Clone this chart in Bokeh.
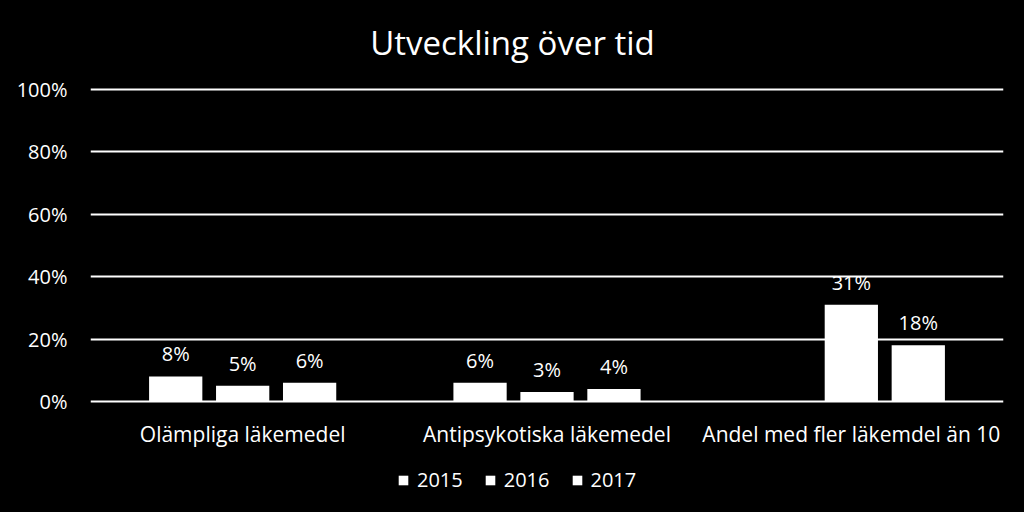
from bokeh.plotting import figure
from bokeh.layouts import column
from bokeh.models import ColumnDataSource, Legend, LegendItem, FixedTicker, CustomJSTickFormatter, Label
from bokeh.transform import dodge
from bokeh.core.properties import value
from bokeh.embed import file_html
from bokeh.resources import INLINE

categories = ["Olämpliga läkemedel", "Antipsykotiska läkemedel", "Andel med fler läkemdel än 10"]
years = ["2015", "2016", "2017"]
y2015 = [8, 6, None]
y2016 = [5, 3, 31]
y2017 = [6, 4, 18]
series = [y2015, y2016, y2017]
y_ticks = [0, 20, 40, 60, 80, 100]
title_text = "Utveckling över tid"

FONT = "Open Sans"

def strip(h, xr):
    f = figure(width=1024, height=h, output_backend="svg", toolbar_location=None,
               min_border=0, background_fill_color="black", border_fill_color="black",
               x_axis_type=None, y_axis_type=None, x_range=xr, y_range=(0, 1))
    f.outline_line_color = None
    f.xgrid.grid_line_color = None
    f.ygrid.grid_line_color = None
    f.title.visible = False
    return f

# title strip (its frame is aligned with the chart frame, 90..1003 px)
title_fig = strip(70, (90, 1003))
title_fig.add_layout(Label(x=512, y=0.4, text=title_text, text_color="white",
                           text_font=FONT, text_font_size="33px",
                           text_align="center", text_baseline="middle"))

p = figure(frame_width=913, frame_height=318, x_range=categories, y_range=(-1, 101),
           output_backend="svg", toolbar_location=None,
           min_border_left=90, min_border_right=21, min_border_top=16, min_border_bottom=51,
           background_fill_color="black", border_fill_color="black")
p.outline_line_color = None
p.title.visible = False
p.x_range.range_padding = 0

# legend strip below the chart
leg_fig = strip(57, (0, 1))

offsets = [-0.22, 0.0, 0.22]
items = []
for yr, vals, off in zip(years, series, offsets):
    cats = [c for c, v in zip(categories, vals) if v is not None]
    vv = [v for v in vals if v is not None]
    src = ColumnDataSource(dict(cat=cats, val=vv, lbl=[f"{v}%" for v in vv]))
    p.vbar(x=dodge("cat", off, range=p.x_range), top="val", width=0.175, source=src,
           fill_color="white", line_color=None)
    p.text(x=dodge("cat", off, range=p.x_range), y="val", text="lbl", source=src,
           text_color="white", text_font=value(FONT), text_font_size="20px",
           text_align="center", text_baseline="bottom", y_offset=-9)
    # zero-height stand-in bar, only used to give the legend entry its swatch
    dummy = leg_fig.vbar(x=[0.5], top=[0], bottom=[0], width=0.01,
                         fill_color="white", line_color=None)
    items.append(LegendItem(label=yr, renderers=[dummy]))

legend = Legend(items=items, orientation="horizontal", location=(307, 19),
                background_fill_alpha=0, border_line_color=None,
                label_text_color="white", label_text_font=FONT, label_text_font_size="20px",
                glyph_width=12, glyph_height=12, spacing=21, label_standoff=8,
                margin=0, padding=0)
leg_fig.add_layout(legend, "center")

p.yaxis.ticker = FixedTicker(ticks=y_ticks)
p.yaxis.formatter = CustomJSTickFormatter(code="return tick + '%';")
p.yaxis.axis_line_color = None
p.yaxis.major_tick_line_color = None
p.yaxis.minor_tick_line_color = None
p.yaxis.major_label_text_color = "white"
p.yaxis.major_label_text_font = FONT
p.yaxis.major_label_text_font_size = "20px"
p.yaxis.major_label_standoff = 17

p.xaxis.axis_line_color = None
p.xaxis.major_tick_line_color = None
p.xaxis.major_label_text_color = "white"
p.xaxis.major_label_text_font = FONT
p.xaxis.major_label_text_font_size = "21px"
p.xaxis.major_label_standoff = 9

p.xgrid.grid_line_color = None
p.ygrid.grid_line_color = "white"
p.ygrid.grid_line_width = 2

layout = column(title_fig, p, leg_fig, spacing=0)
html = file_html(layout, INLINE)
html = html.replace("</head>", "<style>html,body{background:#000;margin:0;}</style></head>", 1)
open("out.html", "w").write(html)
